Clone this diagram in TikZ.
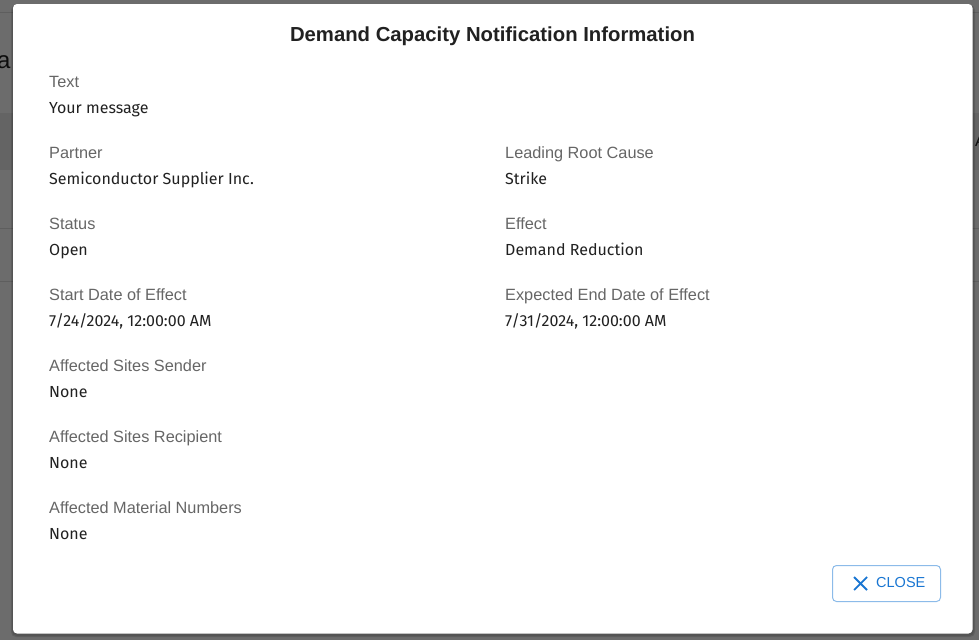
\documentclass[tikz,border=0pt]{standalone}
\usepackage{fontspec}
\setmainfont{Liberation Sans}
\newfontfamily\valfont{Fira Sans}
\begin{document}
\begin{tikzpicture}[x=1pt,y=-1pt,
  lbl/.style={anchor=base west,inner sep=0pt,text=labelgrey,font=\fontsize{16.3}{18}\selectfont},
  val/.style={anchor=base west,inner sep=0pt,text=valblack,font=\valfont\fontsize{16}{18}\selectfont},
  ttl/.style={anchor=base,inner sep=0pt,text=valblack,font=\bfseries\fontsize{20.3}{22}\selectfont},
  bgline/.style={draw=bgline,line width=1pt},
]
\definecolor{bggrey}{HTML}{6C6C6C}
\definecolor{bgband}{HTML}{646464}
\definecolor{bgline}{HTML}{5E5E5E}
\definecolor{labelgrey}{HTML}{666666}
\definecolor{valblack}{HTML}{212121}
\definecolor{btnblue}{HTML}{1976D2}
\definecolor{btnborder}{HTML}{8CBBE9}
\useasboundingbox (0,0) rectangle (979,640);
% page behind overlay
\fill[bggrey] (0,0) rectangle (979,640);
\fill[bgband] (0,113) rectangle (979,170);
\draw[bgline] (0,12) -- (979,12);
\draw[bgline] (0,228) -- (979,228);
\draw[bgline] (0,281) -- (979,281);
\node[anchor=base west,inner sep=0pt,text=black!95,font=\fontsize{24}{26}\selectfont] (bga) at (-3,68) {a};
\node[anchor=base west,inner sep=0pt,text=black!95,font=\fontsize{16}{18}\selectfont] (bgA) at (975,146) {A};
% shadow
\fill[black,opacity=0.12,rounded corners=5pt] (11,5) rectangle (975,637);
\fill[black,opacity=0.10,rounded corners=5pt] (12,6) rectangle (974,636);
% dialog
\fill[white,rounded corners=4pt] (13,4) rectangle (972.5,633.5);
% title
\node[ttl] (title) at (492.5,41) {Demand Capacity Notification Information};
% left column
\node[lbl] (l1) at (49,87) {Text};
\node[val] (v1) at (49,113) {Your message};
\node[lbl] (l2) at (49,158) {Partner};
\node[val] (v2) at (49,184) {Semiconductor Supplier Inc.};
\node[lbl] (l3) at (49,229) {Status};
\node[val] (v3) at (49,255) {Open};
\node[lbl] (l4) at (49,300) {Start Date of Effect};
\node[val] (v4) at (49,326) {7/24/2024, 12:00:00 AM};
\node[lbl] (l5) at (49,371) {Affected Sites Sender};
\node[val] (v5) at (49,397) {None};
\node[lbl] (l6) at (49,442) {Affected Sites Recipient};
\node[val] (v6) at (49,468) {None};
\node[lbl] (l7) at (49,513) {Affected Material Numbers};
\node[val] (v7) at (49,539) {None};
% right column
\node[lbl] (r2) at (505,158) {Leading Root Cause};
\node[val] (rv2) at (505,184) {Strike};
\node[lbl] (r3) at (505,229) {Effect};
\node[val] (rv3) at (505,255) {Demand Reduction};
\node[lbl] (r4) at (505,300) {Expected End Date of Effect};
\node[val] (rv4) at (505,326) {7/31/2024, 12:00:00 AM};
% close button
\draw[btnborder,line width=1pt,rounded corners=4pt] (832.5,565.5) rectangle (940.5,601.5);
\draw[btnblue,line width=1.8pt] (854,577) -- (867,590) (867,577) -- (854,590);
\node[anchor=base west,inner sep=0pt,text=btnblue,font=\fontsize{14.5}{16}\selectfont] (close) at (876,587) {CLOSE};
\end{tikzpicture}
\end{document}
